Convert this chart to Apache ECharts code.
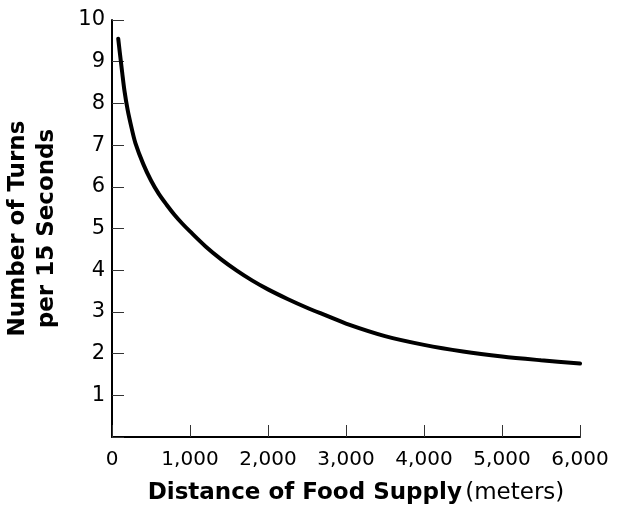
<!DOCTYPE html>
<html>
<head>
<meta charset="utf-8">
<script src="https://cdn.jsdelivr.net/npm/echarts@6/dist/echarts.min.js"></script>
<style>
html,body{margin:0;padding:0;background:#fff;}
#main{width:617px;height:508px;}
</style>
</head>
<body>
<div id="main"></div>
<script>
// values
var distance = [80, 100, 130, 160, 200, 250, 300, 400, 500, 600, 700, 800, 900, 1000, 1200, 1400, 1600, 1800, 2000, 2250, 2500, 2750, 3000, 3500, 4000, 4500, 5000, 5500, 6000];
var turns = [9.55, 9.22, 8.75, 8.3, 7.85, 7.42, 7.05, 6.55, 6.15, 5.83, 5.57, 5.33, 5.12, 4.93, 4.57, 4.26, 3.99, 3.75, 3.54, 3.31, 3.10, 2.91, 2.72, 2.42, 2.21, 2.05, 1.93, 1.84, 1.76];
var xTickLabels = ['0', '1,000', '2,000', '3,000', '4,000', '5,000', '6,000'];
var yTickLabels = ['', '1', '2', '3', '4', '5', '6', '7', '8', '9', '10'];

var pts = [];
for (var i = 0; i < distance.length; i++) {
	pts.push([distance[i], turns[i]]);
}

var myChart = echarts.init(document.querySelector('#main'));

var font = '"DejaVu Sans", sans-serif';

var option = {
	animation: false,
	grid: {
		left: 112,
		right: 37,
		top: 20,
		bottom: 71,
		outerBoundsMode: 'none',
		containLabel: false
	},
	xAxis: {
		type: 'value',
		min: 0,
		max: 6000,
		interval: 1000,
		name: '{b|Distance of Food Supply} {n|(meters)}',
		nameLocation: 'middle',
		nameGap: 45,
		nameTextStyle: {
			padding: [0, 0, 0, 20],
			rich: {
				b: {fontFamily: font, fontSize: 23, fontWeight: 'bold', color: '#000'},
				n: {fontFamily: font, fontSize: 23, color: '#000'}
			}
		},
		axisLine: {lineStyle: {color: '#000', width: 2}},
		axisTick: {inside: true, length: 12, lineStyle: {color: '#333', width: 1}},
		splitLine: {show: false},
		axisLabel: {
			margin: 13,
			fontFamily: font,
			fontSize: 20,
			color: '#000',
			formatter: function (v) { return xTickLabels[Math.round(v / 1000)]; }
		}
	},
	yAxis: {
		type: 'value',
		min: 0,
		max: 10,
		interval: 1,
		name: 'Number of Turns\nper 15 Seconds',
		nameLocation: 'middle',
		nameGap: 50,
		nameRotate: 90,
		nameTextStyle: {
			fontFamily: font,
			fontSize: 23,
			fontWeight: 'bold',
			color: '#000',
			lineHeight: 29
		},
		axisLine: {show: true, lineStyle: {color: '#000', width: 2}},
		axisTick: {show: true, inside: true, length: 12, lineStyle: {color: '#333', width: 1}},
		splitLine: {show: false},
		axisLabel: {
			margin: 7,
			fontFamily: font,
			fontSize: 21,
			color: '#000',
			formatter: function (v) { return yTickLabels[Math.round(v)]; }
		}
	},
	series: [
		{
			type: 'line',
			data: pts,
			smooth: 0.3,
			showSymbol: false,
			lineStyle: {color: '#000', width: 4, cap: 'round'}
		}
	]
};

myChart.setOption(option);
</script>
</body>
</html>
